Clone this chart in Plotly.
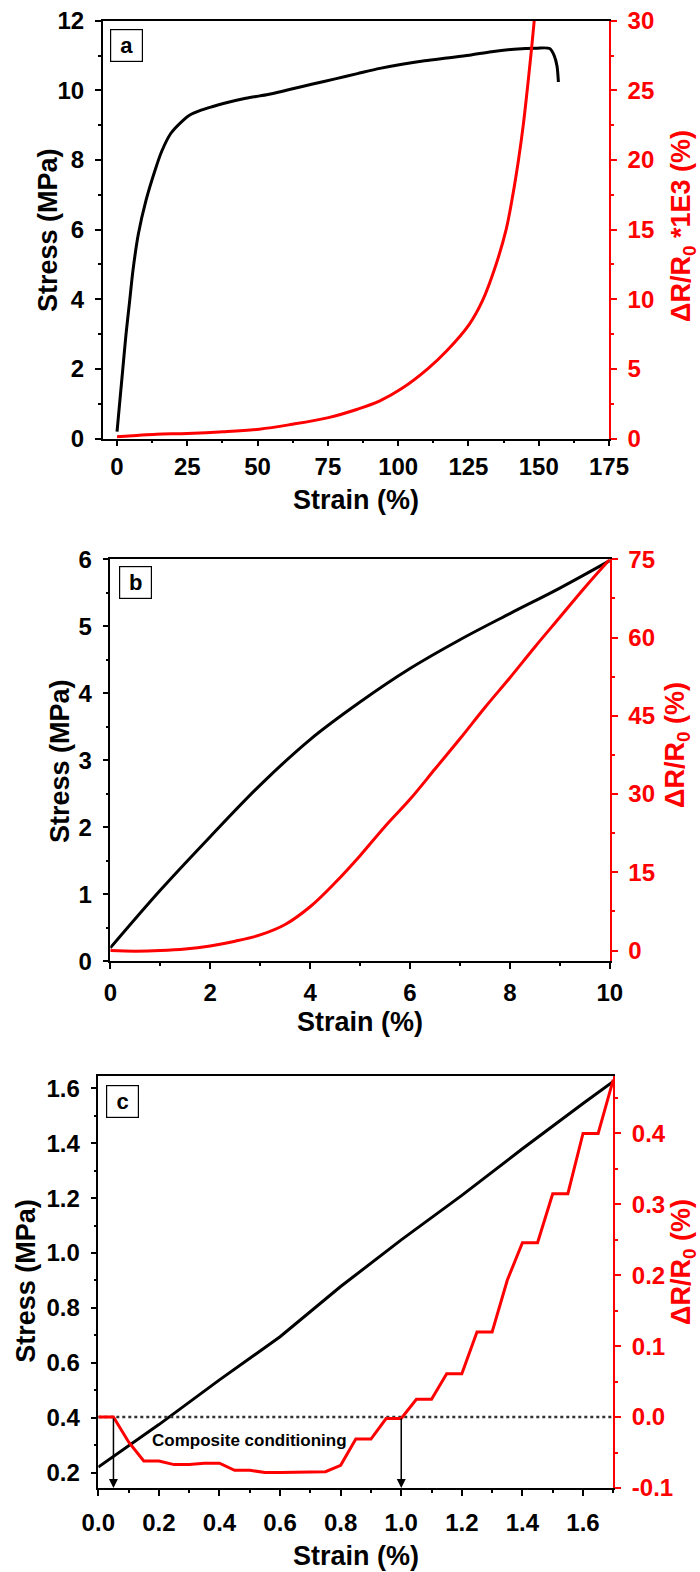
import plotly.graph_objects as go

FONT = "Liberation Sans, Arial, sans-serif"
RED = "#ff0000"
BLK = "#000000"

# ---------------- Panel a data ----------------
a_strain_stress = [0, 1.0, 2.1, 3.2, 4.5, 5.7, 7.6, 10.3, 13.7, 15.9, 19.1, 23.5, 25.9, 29.9, 33.8,
                   37.8, 45.8, 53.7, 57.7, 61.7, 69.6, 77.6, 85.5, 93.5, 101.4, 109.4, 117.3, 125.3,
                   133.2, 141.2, 149.1, 153.9, 155.5, 156.5, 157.0]
a_stress = [0.2, 1.08, 2.04, 3.0, 3.96, 4.85, 5.88, 6.84, 7.75, 8.25, 8.76, 9.14, 9.29, 9.43, 9.53,
            9.62, 9.77, 9.88, 9.95, 10.03, 10.18, 10.33, 10.48, 10.63, 10.75, 10.85, 10.93, 11.01,
            11.11, 11.18, 11.21, 11.2, 11.0, 10.7, 10.24]
a_strain_dr = [0, 7, 14, 25, 37.8, 50.6, 61.7, 75.2, 85.5, 93.5, 101.4, 110.5, 117.3, 125.3, 130.0,
               134.5, 138.4, 140.8, 142.8, 144.5, 145.9, 147.2, 148.4, 149.0]
a_dr = [0.12, 0.22, 0.31, 0.36, 0.48, 0.67, 1.0, 1.5, 2.1, 2.7, 3.6, 5.0, 6.3, 8.2, 9.9,
        12.3, 15.0, 17.5, 20.0, 22.5, 25.0, 27.5, 30.0, 31.5]
a_xticks = [0, 25, 50, 75, 100, 125, 150, 175]
a_yticks = [0, 2, 4, 6, 8, 10, 12]
a_y2ticks = [0, 5, 10, 15, 20, 25, 30]

# ---------------- Panel b data ----------------
b_strain = [0, 1, 2, 3, 4, 5, 6, 7, 8, 9, 10]
b_stress = [0.2, 1.06, 1.86, 2.63, 3.31, 3.87, 4.37, 4.8, 5.19, 5.57, 5.98]
b_strain_dr = [0, 0.5, 1, 1.5, 2, 2.5, 3, 3.5, 4, 4.5, 5, 5.5, 6, 6.5, 7, 7.5, 8, 8.5, 9, 9.5, 10]
b_dr = [0, -0.1, 0, 0.3, 0.9, 1.8, 3.0, 5.0, 8.4, 13.0, 18.2, 23.8, 29.0, 34.8, 40.6, 46.6, 52.3,
        58.2, 63.9, 69.6, 75]
b_xticks = [0, 2, 4, 6, 8, 10]
b_yticks = [0, 1, 2, 3, 4, 5, 6]
b_y2ticks = [0, 15, 30, 45, 60, 75]

# ---------------- Panel c data ----------------
c_strain = [0, 0.2, 0.4, 0.6, 0.8, 1.0, 1.2, 1.4, 1.6, 1.7]
c_stress = [0.22, 0.375, 0.538, 0.695, 0.878, 1.048, 1.21, 1.38, 1.545, 1.625]
c_strain_dr = [0, 0.05, 0.1, 0.15, 0.2, 0.25, 0.3, 0.35, 0.4, 0.45, 0.5, 0.55, 0.6, 0.65, 0.7, 0.75,
               0.8, 0.85, 0.9, 0.95, 1.0, 1.05, 1.1, 1.15, 1.2, 1.25, 1.3, 1.35, 1.4, 1.45, 1.5,
               1.55, 1.6, 1.65, 1.7]
c_dr = [0.0, 0.0, -0.035, -0.062, -0.062, -0.067, -0.067, -0.065, -0.065, -0.075, -0.075, -0.078,
        -0.078, -0.078, -0.077, -0.077, -0.068, -0.031, -0.031, -0.002, -0.002, 0.025, 0.025, 0.061,
        0.061, 0.12, 0.12, 0.193, 0.246, 0.246, 0.315, 0.315, 0.40, 0.40, 0.476]
c_ref_x = [0, 1.7]
c_ref_y = [0, 0]
c_arrow_x = [0.05, 1.0]
c_xticks = [0, 0.2, 0.4, 0.6, 0.8, 1.0, 1.2, 1.4, 1.6]
c_xlabels = ["0.0", "0.2", "0.4", "0.6", "0.8", "1.0", "1.2", "1.4", "1.6"]
c_yticks = [0.2, 0.4, 0.6, 0.8, 1.0, 1.2, 1.4, 1.6]
c_ylabels = ["0.2", "0.4", "0.6", "0.8", "1.0", "1.2", "1.4", "1.6"]
c_y2ticks = [-0.1, 0.0, 0.1, 0.2, 0.3, 0.4]
c_y2labels = ["-0.1", "0.0", "0.1", "0.2", "0.3", "0.4"]

W, H = 700, 1572


def px(x):
    return x / W


def py(y):
    return 1 - y / H


TICKFONT = dict(family=FONT, size=24, weight="bold")


def xax(domain, rng, ticks, minor, anchor, labels=None, standoff=6):
    d = dict(domain=domain, range=rng, anchor=anchor, showline=True, linecolor=BLK, linewidth=1.5,
             mirror=True, ticks="outside", ticklen=6, tickwidth=1.5, tickcolor=BLK, automargin=False,
             showgrid=False, zeroline=False, tickvals=ticks,
             ticktext=labels if labels else [str(t) for t in ticks],
             tickfont=dict(TICKFONT, color=BLK), ticklabelstandoff=standoff,
             minor=dict(dtick=minor, ticklen=3, tickwidth=1.5, tickcolor=BLK, ticks="outside",
                        showgrid=False))
    return d


def yax(domain, rng, ticks, minor, anchor, color, side="left", overlaying=None, labels=None):
    d = dict(domain=domain, range=rng, anchor=anchor, side=side, showline=True, linecolor=color,
             linewidth=1.5, ticks="outside", ticklen=6, tickwidth=1.5, tickcolor=color, automargin=False,
             showgrid=False, zeroline=False, tickvals=ticks,
             ticktext=labels if labels else [str(t) for t in ticks],
             tickfont=dict(TICKFONT, color=color), ticklabelstandoff=6,
             minor=dict(dtick=minor, ticklen=3, tickwidth=1.5, tickcolor=color, ticks="outside",
                        showgrid=False))
    if overlaying:
        d["overlaying"] = overlaying
    return d


fig = go.Figure()

# Panel a
fig.add_trace(go.Scatter(x=a_strain_stress, y=a_stress, mode="lines",
                         line=dict(color=BLK, width=3, shape="spline", smoothing=0.8),
                         xaxis="x", yaxis="y", showlegend=False))
fig.add_trace(go.Scatter(x=a_strain_dr, y=a_dr, mode="lines", line=dict(color=RED, width=3, shape="spline"),
                         xaxis="x", yaxis="y2", showlegend=False))
# Panel b
fig.add_trace(go.Scatter(x=b_strain, y=b_stress, mode="lines", line=dict(color=BLK, width=3, shape="spline"),
                         xaxis="x2", yaxis="y3", showlegend=False))
fig.add_trace(go.Scatter(x=b_strain_dr, y=b_dr, mode="lines", line=dict(color=RED, width=3, shape="spline"),
                         xaxis="x2", yaxis="y4", showlegend=False))
# Panel c
fig.add_trace(go.Scatter(x=c_strain, y=c_stress, mode="lines", line=dict(color=BLK, width=3),
                         xaxis="x3", yaxis="y5", showlegend=False))
fig.add_trace(go.Scatter(x=c_ref_x, y=c_ref_y, mode="lines", line=dict(color="#333333", width=2.5, dash="dot"),
                         xaxis="x3", yaxis="y6", showlegend=False))
fig.add_trace(go.Scatter(x=c_strain_dr, y=c_dr, mode="lines", line=dict(color=RED, width=3),
                         xaxis="x3", yaxis="y6", showlegend=False))

a_xd = [px(102.7), px(609.0)]
a_yd = [py(438.5), py(20.7)]
b_xd = [px(110.3), px(609.8)]
b_yd = [py(961.3), py(559.3)]
c_xd = [px(98.3), px(613.3)]
c_yd = [py(1488.0), py(1076.0)]

fig.update_layout(
    width=W, height=H, margin=dict(l=0, r=0, t=0, b=0, autoexpand=False),
    paper_bgcolor="white", plot_bgcolor="white",
    xaxis=xax(a_xd, [-5.1, 175], a_xticks, 12.5, "y", standoff=0),
    yaxis=yax(a_yd, [0, 12], a_yticks, 1, "x", BLK),
    yaxis2=yax(a_yd, [0, 30], a_y2ticks, 2.5, "x", RED, side="right", overlaying="y"),
    xaxis2=xax(b_xd, [0, 10], b_xticks, 1, "y3", standoff=3),
    yaxis3=yax(b_yd, [0, 6], b_yticks, 0.5, "x2", BLK),
    yaxis4=yax(b_yd, [-2.05, 75], b_y2ticks, 7.5, "x2", RED, side="right", overlaying="y3"),
    xaxis3=xax(c_xd, [0, 1.7], c_xticks, 0.1, "y5", labels=c_xlabels, standoff=6),
    yaxis5=yax(c_yd, [0.144, 1.645], c_yticks, 0.1, "x3", BLK, labels=c_ylabels),
    yaxis6=yax(c_yd, [-0.1, 0.481], c_y2ticks, 0.05, "x3", RED, side="right", overlaying="y5",
               labels=c_y2labels),
)

TITLEFONT = dict(family=FONT, size=27, weight="bold")
ann = []


def title(text, x, y, color=BLK, angle=0):
    ann.append(dict(text=text, x=px(x), y=py(y), xref="paper", yref="paper", showarrow=False,
                    textangle=angle, font=dict(TITLEFONT, color=color), xanchor="center", yanchor="middle"))


title("Stress (MPa)", 47.5, 229.6, angle=-90)
title("ΔR/R<sub>0</sub> *1E3 (%)", 683, 226, color=RED, angle=-90)
title("Strain (%)", 356, 500)
title("Stress (MPa)", 60, 761, angle=-90)
title("ΔR/R<sub>0</sub> (%)", 677, 745, color=RED, angle=-90)
title("Strain (%)", 360, 1022)
title("Stress (MPa)", 25.7, 1281, angle=-90)
title("ΔR/R<sub>0</sub> (%)", 683, 1262, color=RED, angle=-90)
title("Strain (%)", 356, 1556)


def boxlabel(text, x, y):
    ann.append(dict(text=text, x=px(x), y=py(y), xref="paper", yref="paper", showarrow=False,
                    font=dict(family=FONT, size=22, weight="bold", color=BLK),
                    bordercolor=BLK, borderwidth=1.2, borderpad=0, width=31, height=31,
                    bgcolor="white", xanchor="center", yanchor="middle"))


boxlabel("a", 126, 45.3)
boxlabel("b", 135, 582)
boxlabel("c", 122, 1101)

ann.append(dict(text="Composite conditioning", x=0.50, y=-0.0334, xref="x3", yref="y6", showarrow=False,
                font=dict(family=FONT, size=17, weight="bold", color=BLK), xanchor="center", yanchor="middle"))
for xa in c_arrow_x:
    ann.append(dict(x=xa, y=-0.1, xref="x3", yref="y6", ax=xa, ay=0.0, axref="x3", ayref="y6",
                    showarrow=True, arrowhead=2, arrowsize=1.2, arrowwidth=1.5, arrowcolor=BLK, text=""))

fig.update_layout(annotations=ann)
fig.write_html("out.html")
